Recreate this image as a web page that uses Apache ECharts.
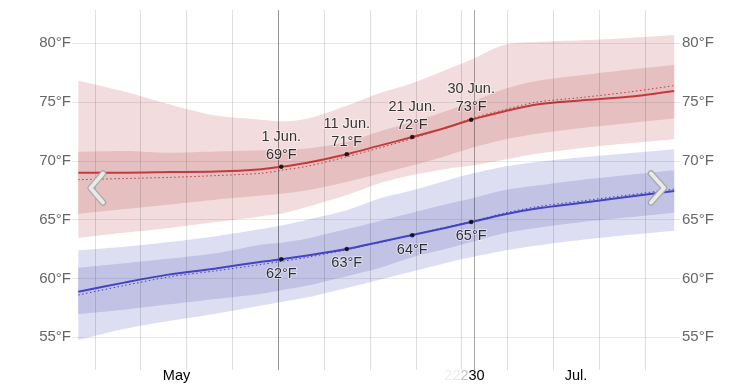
<!DOCTYPE html>
<html><head><meta charset="utf-8">
<script src="https://cdn.jsdelivr.net/npm/echarts@6/dist/echarts.min.js"></script>
<style>html,body{margin:0;padding:0;background:#fff}#c{width:753px;height:387px}</style>
</head><body><div id="c"></div>
<script>
// ---- data (°F), sampled days (values read at noon) ----
const days = ['2025-05-01','2025-05-08','2025-05-15','2025-05-22','2025-05-29','2025-06-01','2025-06-05','2025-06-11','2025-06-16','2025-06-21','2025-06-26','2025-06-30','2025-07-05','2025-07-10','2025-07-17','2025-07-24','2025-07-31'];
const highMean   = [69.0, 69.0, 69.05,69.1, 69.3, 69.5, 69.85,70.57,71.3, 72.03,72.8, 73.5, 74.2, 74.8, 75.15,75.45,75.95];
const highPrev   = [68.4, 68.5, 68.6, 68.75,68.95,69.2, 69.55,70.35,71.1, 71.9, 72.8, 73.6, 74.35,75.0, 75.4, 75.85,76.4];
const highP90    = [76.82,75.9, 74.8, 73.85,73.5, 73.35,73.6, 74.7, 75.75,76.6, 77.7, 78.6, 79.85,80.1, 80.25,80.45,80.7];
const highP75    = [70.78,70.85,70.7, 70.8, 70.9, 70.93,71.05,71.6, 72.5, 73.3, 74.2, 75.0, 76.1, 76.8, 77.3, 77.75,78.15];
const highP25    = [65.48,65.9, 66.3, 66.7, 67.05,67.2, 67.5, 68.2, 68.9, 69.6, 70.4, 71.1, 71.8, 72.3, 72.8, 73.2, 73.6];
const highP10    = [63.47,63.9, 64.3, 64.8, 65.3, 65.5, 66.1, 67.1, 68.1, 68.8, 69.3, 69.6, 70.1, 70.6, 71.1, 71.5, 71.85];
const lowMean    = [58.88,59.65,60.35,60.85,61.43,61.63,61.95,62.5, 63.1, 63.7, 64.3, 64.8, 65.45,65.95,66.45,66.95,67.45];
const lowPrev    = [58.6, 59.4, 60.15,60.65,61.2, 61.45,61.8, 62.45,63.05,63.7, 64.35,64.85,65.55,66.1, 66.6, 67.1, 67.6];
const lowP90     = [62.4, 62.7, 63.1, 63.6, 64.2, 64.5, 65.0, 65.8, 66.8, 67.5, 68.3, 68.9, 69.5, 69.9, 70.3, 70.65,71.0];
const lowP75     = [60.92,61.3, 61.7, 62.15,62.9, 63.05,63.4, 64.2, 64.9, 65.6, 66.3, 66.8, 67.5, 67.9, 68.4, 68.8, 69.2];
const lowP25     = [56.98,57.35,57.8, 58.25,58.7, 59.0, 59.4, 60.2, 60.9, 61.8, 62.5, 63.1, 63.85,64.3, 64.8, 65.2, 65.6];
const lowP10     = [54.77,55.7, 56.4, 57.0, 57.7, 58.0, 58.4, 59.2, 59.9, 60.6, 61.3, 61.8, 62.35,62.8, 63.3, 63.7, 64.07];
// annotated points
const markDays      = ['2025-06-01','2025-06-11','2025-06-21','2025-06-30'];
const markDayLabels = ['1 Jun.','11 Jun.','21 Jun.','30 Jun.'];
const highMarkVals  = [69.5, 70.57, 72.03, 73.5];
const highMarkText  = [69, 71, 72, 73];
const lowMarkVals   = [61.63, 62.5, 63.67, 64.8];
const lowMarkText   = [62, 63, 64, 65];
// axis ticks
const yMin = 55, yMax = 80, yStep = 5;
const weekLines = ['2025-05-04','2025-05-11','2025-05-18','2025-05-25','2025-06-01','2025-06-08','2025-06-15','2025-06-22','2025-06-29','2025-07-06','2025-07-13','2025-07-20','2025-07-27'];
const monthLines = ['2025-06-01','2025-07-01'];
const monthLabels = [['2025-05-16','May'], ['2025-07-16','Jul.']];

// ---- helpers ----
const DAY = 86400000;
function t0(s){const [y,m,d]=s.split('-').map(Number);return Date.UTC(y,m-1,d);}
function noon(s){return t0(s)+DAY/2;}
const X = days.map(noon);
const pair = a => a.map((v,i)=>[X[i],v]);
const diff = (hi,lo) => hi.map((v,i)=>[X[i], +(v-lo[i]).toFixed(3)]);
const jun1 = t0('2025-06-01');
const xMin = jun1 - 31.46*DAY, xMax = jun1 + 61.39*DAY;
const FONT = '"Liberation Sans", Arial, Helvetica, sans-serif';

function band(id, lo, hi, color){
  return [
    {type:'line', xAxisIndex:0, yAxisIndex:0, stack:id, clip:false, data:pair(lo), symbol:'none', smooth:0.3, lineStyle:{width:0,opacity:0}, silent:true, z:1},
    {type:'line', xAxisIndex:0, yAxisIndex:0, stack:id, clip:false, data:diff(hi,lo), symbol:'none', smooth:0.3, lineStyle:{width:0,opacity:0}, areaStyle:{color:color,opacity:1}, silent:true, z:1}
  ];
}

const chart = echarts.init(document.getElementById('c'), null, {renderer:'canvas'});
const RED='#c23a3c', BLUE='#4343c6';
const yLab = (margin)=>({margin, color:'#666', fontSize:15, fontFamily:FONT, formatter:v=>v+'°F'});
const option = {
  animation:false,
  textStyle:{fontFamily:FONT},
  grid:[
    {left:72, right:73, top:43.3, height:294},
    {left:72, right:73, top:10, height:360}
  ],
  xAxis:[
    {type:'time', gridIndex:0, min:xMin, max:xMax, show:false, splitLine:{show:false}},
    {type:'time', gridIndex:1, min:xMin, max:xMax, show:false, splitLine:{show:false}}
  ],
  yAxis:[
    {type:'value', gridIndex:0, min:yMin, max:yMax, interval:yStep, position:'left', z:3,
      axisLine:{show:false}, axisTick:{show:false},
      splitLine:{show:true, lineStyle:{color:'rgba(0,0,0,0.085)', width:1}},
      axisLabel:yLab(1)},
    {type:'value', gridIndex:0, min:yMin, max:yMax, interval:yStep, position:'right', z:3,
      axisLine:{show:false}, axisTick:{show:false}, splitLine:{show:false},
      axisLabel:yLab(2)},
    {type:'value', gridIndex:1, min:0, max:1, show:false}
  ],
  series:[
    ...band('hOuter', highP10, highP90, '#f2dcdd'),
    ...band('hInner', highP25, highP75, '#e6c0c1'),
    ...band('lOuter', lowP10, lowP90, '#dedef3'),
    ...band('lInner', lowP25, lowP75, '#c2c2e5'),
    {type:'custom', xAxisIndex:1, yAxisIndex:2, silent:true, z:1,
      data: weekLines.map(s=>[t0(s),0]).concat(monthLines.map(s=>[t0(s),1])),
      renderItem:(params, api)=>{
        const t=api.value(0), kind=api.value(1);
        const a=api.coord([t,1]), b=api.coord([t,0]);
        const x=Math.round(a[0])+0.5;
        return {type:'line', shape:{x1:x,y1:a[1],x2:x,y2:b[1]},
          style:{stroke: kind ? 'rgba(0,0,0,0.34)' : 'rgba(0,0,0,0.13)', lineWidth:1}};
      }},
    {type:'line', xAxisIndex:0, yAxisIndex:0, clip:false, data:pair(highPrev), symbol:'none', smooth:0.3, z:2,
      lineStyle:{color:RED, width:1, type:[1.5,2.5]}},
    {type:'line', xAxisIndex:0, yAxisIndex:0, clip:false, data:pair(lowPrev), symbol:'none', smooth:0.3, z:2,
      lineStyle:{color:BLUE, width:1, type:[1.5,2.5]}},
    {type:'line', xAxisIndex:0, yAxisIndex:0, clip:false, data:pair(highMean), symbol:'none', smooth:0.3, z:2,
      lineStyle:{color:RED, width:2}},
    {type:'line', xAxisIndex:0, yAxisIndex:0, clip:false, data:pair(lowMean), symbol:'none', smooth:0.3, z:2,
      lineStyle:{color:BLUE, width:2}},
    {type:'scatter', xAxisIndex:0, yAxisIndex:0, z:4, symbolSize:4.5, itemStyle:{color:'#000'},
      data: markDays.map((s,i)=>[noon(s), highMarkVals[i]]),
      label:{show:true, position:'top', distance:1, color:'#000', fontSize:14.5, lineHeight:18, fontFamily:FONT,
        textBorderColor:'rgba(255,255,255,0.6)', textBorderWidth:2, align:'center',
        formatter:p=> markDayLabels[p.dataIndex]+'\n'+highMarkText[p.dataIndex]+'°F'}},
    {type:'scatter', xAxisIndex:0, yAxisIndex:0, z:4, symbolSize:4.5, itemStyle:{color:'#000'},
      data: markDays.map((s,i)=>[noon(s), lowMarkVals[i]]),
      label:{show:true, position:'bottom', distance:4.5, color:'#000', fontSize:14.5, fontFamily:FONT,
        textBorderColor:'rgba(255,255,255,0.6)', textBorderWidth:2, align:'center',
        formatter:p=> lowMarkText[p.dataIndex]+'°F'}}
  ]
};
chart.setOption(option);

// month labels, chevrons, slider text
const px = t => chart.convertToPixel({xAxisIndex:1}, t);
const g = [];
monthLabels.forEach(([d,txt])=>{
  g.push({type:'text', x:px(noon(d)), y:376, style:{text:txt, fill:'#000', font:'14.5px '+FONT, textAlign:'center', textVerticalAlign:'middle'}});
});
const jul1 = px(t0('2025-07-01'));
g.push({type:'text', x:jul1-14, y:376, style:{text:'22', fill:'#ececec', font:'14.5px '+FONT, textAlign:'right', textVerticalAlign:'middle'}});
g.push({type:'text', x:jul1-6, y:376, style:{text:'2', fill:'#c4c4c4', font:'14.5px '+FONT, textAlign:'right', textVerticalAlign:'middle'}});
g.push({type:'text', x:jul1-6, y:376, style:{text:'30', fill:'#000', font:'14.5px '+FONT, textAlign:'left', textVerticalAlign:'middle'}});
function chev(points){
  g.push({type:'polyline', z:10, shape:{points}, style:{stroke:'#a9a9a9', lineWidth:6.5, fill:null, lineCap:'round', lineJoin:'round'}});
  g.push({type:'polyline', z:11, shape:{points}, style:{stroke:'#e9e9e9', lineWidth:4, fill:null, lineCap:'round', lineJoin:'round'}});
}
chev([[103,173.5],[90.5,188],[103,202.5]]);
chev([[651,173.5],[664,188],[651,202.5]]);
chart.setOption({graphic:g});
</script></body></html>
